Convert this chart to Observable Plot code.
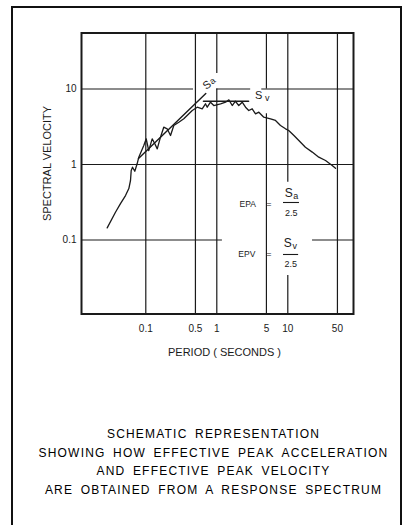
<!DOCTYPE html>
<html>
<head>
<meta charset="utf-8">
<script src="https://cdn.jsdelivr.net/npm/d3@7"></script>
<script src="https://cdn.jsdelivr.net/npm/@observablehq/plot@0.6"></script>
<style>
  html, body { margin: 0; padding: 0; background: #fff; width: 404px; height: 525px; overflow: hidden; }
  #page { position: relative; width: 404px; height: 525px; }
  #border { position: absolute; left: 11px; top: 6px; width: 387px; height: 600px; border: 2px solid #111; border-bottom: none; }
  #chart { position: absolute; left: 0; top: 0; }
  #caption { position: absolute; left: 20px; width: 387px; top: 425px; text-align: center;
    font-family: "Liberation Sans", Arial, sans-serif; font-size: 12px; line-height: 18.5px;
    letter-spacing: 1.2px; word-spacing: 3px; color: #000; }
</style>
</head>
<body>
<div id="page">
  <div id="border"></div>
  <div id="chart"></div>
  <div id="caption">SCHEMATIC REPRESENTATION<br>SHOWING HOW EFFECTIVE PEAK ACCELERATION<br>AND EFFECTIVE PEAK VELOCITY<br>ARE OBTAINED FROM A RESPONSE SPECTRUM</div>
</div>
<script>
// Response spectrum (period in seconds, spectral velocity)
const periods = [0.0286,0.0374,0.0440,0.0518,0.0577,0.0609,0.0623,0.065,0.070,0.0757,0.0797,0.0937,0.1014,0.110,0.123,0.134,0.145,0.161,0.179,0.200,0.223,0.248,0.292,0.343,0.451,0.530,0.623,0.693,0.733,0.815,0.908,1.13,1.33,1.48,1.65,1.83,2.04,2.28,2.54,2.82,3.15,3.51,3.91,4.59,5.71,6.71,7.89,9.29,10.3,12.2,14.3,17.7,22.1,27.3,34.0,42.2,47.0];
const velocities = [0.145,0.233,0.304,0.388,0.481,0.614,0.833,0.921,0.815,1.03,1.25,1.79,2.19,1.53,2.19,1.88,1.61,2.30,3.12,2.97,2.42,3.29,3.63,4.03,5.19,5.74,5.47,6.37,5.74,6.69,6.04,6.37,6.69,7.19,6.04,6.89,6.04,6.69,5.74,5.19,5.47,4.69,4.93,4.23,4.03,3.83,3.29,2.97,2.82,2.42,2.08,1.69,1.46,1.25,1.13,0.970,0.893];

// Smoothed Sa (constant acceleration) and Sv (constant velocity) lines
const saPeriods = [0.0789, 0.70];
const saVelocities = [1.20, 8.72];
const svPeriods = [0.65, 2.8];
const svVelocities = [6.9, 6.9];

// Axes
const xDomain = [0.01243, 84.2];
const yDomain = [0.01047, 55.2];
const xTicks = [0.1, 0.5, 1, 5, 10, 50];
const xTickLabels = ["0.1", "0.5", "1", "5", "10", "50"];
const yTicks = [0.1, 1, 10];
const yTickLabels = ["0.1", "1", "10"];

// Grid line segments (value, from, to) — broken where labels sit
const hGridValues = [10, 10, 10, 1, 0.1, 0.1];
const hGridFrom = [0.01243, 1.0, 4.3, 0.01243, 0.01243, 22.3];
const hGridTo = [0.47, 3.0, 84.2, 84.2, 1.2, 84.2];
const vGridValues = [0.1, 0.5, 1, 1, 5, 5, 10, 10, 50];
const vGridFrom = [0.01047, 0.01047, 0.01047, 16, 0.01047, 10, 0.01047, 0.58, 0.01047];
const vGridTo = [55.2, 55.2, 10, 55.2, 4.7, 55.2, 0.034, 55.2, 55.2];

const spectrum = periods.map((t, i) => ({t, v: velocities[i]}));
const saLine = saPeriods.map((t, i) => ({t, v: saVelocities[i]}));
const svLine = svPeriods.map((t, i) => ({t, v: svVelocities[i]}));
const hGrid = hGridValues.map((v, i) => ({v, from: hGridFrom[i], to: hGridTo[i]}));
const vGrid = vGridValues.map((t, i) => ({t, from: vGridFrom[i], to: vGridTo[i]}));
const xTickData = xTicks.map((t, i) => ({t, label: xTickLabels[i]}));

const ink = "#1a1a1a";
const font = "Liberation Sans, Arial, sans-serif";

const chart = Plot.plot({
  width: 404,
  height: 370,
  marginLeft: 81,
  marginRight: 51,
  marginTop: 32.5,
  marginBottom: 56.5,
  style: {fontFamily: font, fontSize: "10px", color: ink, background: "transparent"},
  x: {type: "log", domain: xDomain, axis: null},
  y: {type: "log", domain: yDomain},
  marks: [
    Plot.ruleY(hGrid, {y: "v", x1: "from", x2: "to", stroke: ink, strokeWidth: 1.2}),
    Plot.ruleX(vGrid, {x: "t", y1: "from", y2: "to", stroke: ink, strokeWidth: 1.2}),
    Plot.frame({stroke: ink, strokeWidth: 2}),
    Plot.text(xTickData, {x: "t", text: "label", frameAnchor: "bottom", lineAnchor: "middle", dy: 14.5, fontSize: 10}),
    Plot.axisY({ticks: yTicks, tickSize: 0, tickPadding: 5, tickFormat: (d) => yTickLabels[yTicks.indexOf(d)], label: null, fontSize: 10}),
    Plot.text(["PERIOD ( SECONDS )"], {frameAnchor: "bottom", lineAnchor: "middle", textAnchor: "middle", dx: 7, dy: 38.5, fontSize: 11, letterSpacing: "0.9px"}),
    Plot.text(["SPECTRAL VELOCITY"], {frameAnchor: "left", textAnchor: "middle", lineAnchor: "middle", dx: -34, dy: -10, rotate: -90, fontSize: 11, letterSpacing: "0.4px"}),
    Plot.line(spectrum, {x: "t", y: "v", stroke: ink, strokeWidth: 1.3, strokeLinejoin: "round"}),
    Plot.line(saLine, {x: "t", y: "v", stroke: ink, strokeWidth: 1.4}),
    Plot.line(svLine, {x: "t", y: "v", stroke: ink, strokeWidth: 1.6}),
    // Sa label at the end of the sloped line
    Plot.text([{t: 0.728, v: 11.3}], {x: "t", y: "v", text: () => "S", rotate: -38, fontSize: 11}),
    Plot.text([{t: 0.870, v: 12.8}], {x: "t", y: "v", text: () => "a", rotate: -38, fontSize: 9}),
    // Sv label
    Plot.text([{t: 3.9, v: 8.2}], {x: "t", y: "v", text: () => "S", fontSize: 11}),
    Plot.text([{t: 5.13, v: 7.6}], {x: "t", y: "v", text: () => "v", fontSize: 9}),
    // EPA = Sa / 2.5
    Plot.text([{t: 10, v: 0.3}], {x: "t", y: "v", text: () => "EPA", dx: -40, fontSize: 8.5}),
    Plot.text([{t: 10, v: 0.3}], {x: "t", y: "v", text: () => "=", dx: -19, fontSize: 9}),
    Plot.text([{t: 10, v: 0.3}], {x: "t", y: "v", text: () => "S", dx: 1, dy: -11, fontSize: 12}),
    Plot.text([{t: 10, v: 0.3}], {x: "t", y: "v", text: () => "a", dx: 8, dy: -8, fontSize: 9}),
    Plot.ruleY([0.314], {x1: 8.7, x2: 14.6, stroke: ink, strokeWidth: 1.1}),
    Plot.text([{t: 10, v: 0.3}], {x: "t", y: "v", text: () => "2.5", dx: 3.5, dy: 9, fontSize: 9}),
    // EPV = Sv / 2.5
    Plot.text([{t: 10, v: 0.065}], {x: "t", y: "v", text: () => "EPV", dx: -41, fontSize: 8.5}),
    Plot.text([{t: 10, v: 0.065}], {x: "t", y: "v", text: () => "=", dx: -19, fontSize: 9}),
    Plot.text([{t: 10, v: 0.065}], {x: "t", y: "v", text: () => "S", dx: 0, dy: -11, fontSize: 12}),
    Plot.text([{t: 10, v: 0.065}], {x: "t", y: "v", text: () => "v", dx: 7, dy: -8, fontSize: 9}),
    Plot.ruleY([0.0643], {x1: 8.7, x2: 14.2, stroke: ink, strokeWidth: 1.1}),
    Plot.text([{t: 10, v: 0.065}], {x: "t", y: "v", text: () => "2.5", dx: 3, dy: 10, fontSize: 9})
  ]
});
document.getElementById("chart").appendChild(chart);
</script>
</body>
</html>
